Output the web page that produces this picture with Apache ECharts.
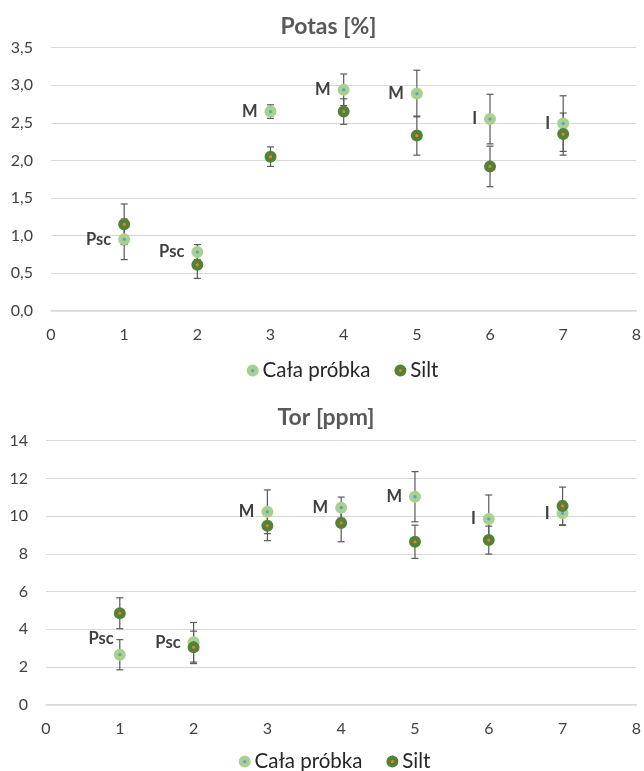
<!DOCTYPE html>
<html>
<head>
<meta charset="utf-8">
<script src="https://cdn.jsdelivr.net/npm/echarts@6/dist/echarts.min.js"></script>
<style>
html,body{margin:0;padding:0;background:#fff;}
#chart{width:644px;height:771px;}
</style>
</head>
<body>
<div id="chart"></div>
<script>
// ---- data ----
var xValues = [1, 2, 3, 4, 5, 6, 7];
var pointLabels = ['Psc', 'Psc', 'M', 'M', 'M', 'I', 'I'];
var seriesNames = ['Cała próbka', 'Silt'];

var potasCala = [0.95, 0.78, 2.65, 2.94, 2.89, 2.55, 2.49];
var potasCalaErr = [0.27, 0.10, 0.09, 0.21, 0.31, 0.33, 0.37];
var potasSilt = [1.15, 0.61, 2.05, 2.65, 2.33, 1.92, 2.35];
var potasSiltErr = [0.27, 0.18, 0.13, 0.17, 0.26, 0.27, 0.28];

var torCala = [2.65, 3.31, 10.23, 10.45, 11.03, 9.85, 10.15];
var torCalaErr = [0.80, 1.05, 1.16, 0.56, 1.33, 1.27, 0.64];
var torSilt = [4.85, 3.04, 9.49, 9.64, 8.64, 8.73, 10.54];
var torSiltErr = [0.82, 0.86, 0.79, 1.00, 0.88, 0.74, 1.00];

var titles = ['Potas [%]', 'Tor [ppm]'];

// ---- styles ----
var FONT = 'Lato';
var lightGreen = '#A9D18E', blueDot = '#5B9BD5';
var darkGreen = '#548235', orangeDot = '#ED7D31';
var gridColor = '#D9D9D9';
var errColor = '#595959';

function pairs(ys) { return xValues.map(function (x, i) { return [x, ys[i]]; }); }
function triples(ys, es) { return xValues.map(function (x, i) { return [x, ys[i], es[i]]; }); }

function errRender(params, api) {
  var x = api.value(0), y = api.value(1), e = api.value(2);
  var t = api.coord([x, y + e]), b = api.coord([x, y - e]);
  var hw = 3.5;
  var st = { stroke: errColor, lineWidth: 1.2 };
  return {
    type: 'group',
    children: [
      { type: 'line', shape: { x1: t[0], y1: t[1], x2: b[0], y2: b[1] }, style: st },
      { type: 'line', shape: { x1: t[0] - hw, y1: t[1], x2: t[0] + hw, y2: t[1] }, style: st },
      { type: 'line', shape: { x1: b[0] - hw, y1: b[1], x2: b[0] + hw, y2: b[1] }, style: st }
    ]
  };
}

function errSeries(idx, ys, es) {
  return {
    type: 'custom', xAxisIndex: idx, yAxisIndex: idx, z: 1, silent: true,
    renderItem: errRender, encode: { x: 0, y: 1 }, data: triples(ys, es)
  };
}

var SYM = 7.6, BW = 4.4;

function calaSeries(idx, ys, overrides) {
  var data = pairs(ys).map(function (p, i) {
    var item = { value: p };
    if (overrides && overrides[i]) item.label = overrides[i];
    return item;
  });
  return {
    name: seriesNames[0], type: 'scatter', xAxisIndex: idx, yAxisIndex: idx, z: 3,
    symbol: 'circle', symbolSize: SYM,
    itemStyle: { color: blueDot, borderColor: lightGreen, borderWidth: BW, opacity: 1 },
    label: {
      show: true, position: 'left', distance: 7,
      formatter: function (p) { return pointLabels[p.dataIndex]; },
      fontFamily: FONT, fontWeight: 'bold', fontSize: 16.5, color: '#404040'
    },
    emphasis: { disabled: true },
    data: data
  };
}

function siltSeries(idx, ys) {
  return {
    name: seriesNames[1], type: 'scatter', xAxisIndex: idx, yAxisIndex: idx, z: 4,
    symbol: 'circle', symbolSize: SYM,
    itemStyle: { color: orangeDot, borderColor: darkGreen, borderWidth: BW, opacity: 1 },
    emphasis: { disabled: true },
    data: pairs(ys)
  };
}

function legendFor(left, top) {
  return {
    left: left, top: top, itemWidth: SYM, itemHeight: SYM, itemGap: 24, padding: 0,
    icon: 'circle',
    textStyle: { fontFamily: FONT, fontSize: 20.5, color: '#262626', padding: [0, 0, 0, 1] },
    data: [
      { name: seriesNames[0], icon: 'circle', itemStyle: { color: blueDot, borderColor: lightGreen, borderWidth: BW } },
      { name: seriesNames[1], icon: 'circle', itemStyle: { color: orangeDot, borderColor: darkGreen, borderWidth: BW } }
    ],
    selectedMode: false
  };
}

function xAxisFor(idx) {
  return {
    type: 'value', gridIndex: idx, min: 0, max: 8, interval: 1,
    axisLine: { show: true, onZero: false, lineStyle: { color: gridColor, width: 1.5 } },
    axisTick: { show: false },
    splitLine: { show: false },
    axisLabel: { fontFamily: FONT, fontSize: 16, color: '#404040', margin: 16 }
  };
}

function yAxisFor(idx, max, interval, fmt) {
  return {
    type: 'value', gridIndex: idx, min: 0, max: max, interval: interval,
    axisLine: { show: false }, axisTick: { show: false },
    splitLine: { show: true, lineStyle: { color: gridColor, width: 1 } },
    axisLabel: { fontFamily: FONT, fontSize: 16, color: '#404040', margin: 18, formatter: fmt }
  };
}

var option = {
  animation: false,
  backgroundColor: '#ffffff',
  textStyle: { fontFamily: FONT },
  title: [
    { text: titles[0], left: 328.5, top: 15, textAlign: 'center', padding: 0,
      textStyle: { fontFamily: FONT, fontWeight: 'bold', fontSize: 23, color: '#595959' } },
    { text: titles[1], left: 326, top: 406, textAlign: 'center', padding: 0,
      textStyle: { fontFamily: FONT, fontWeight: 'bold', fontSize: 23, color: '#595959' } }
  ],
  legend: [legendFor(246.7, 360), legendFor(238.7, 751)],
  grid: [
    { left: 51, right: 5.5, top: 47.7, height: 263, containLabel: false },
    { left: 46, right: 5.5, top: 440.7, height: 264, containLabel: false }
  ],
  xAxis: [xAxisFor(0), xAxisFor(1)],
  yAxis: [
    yAxisFor(0, 3.5, 0.5, function (v) { return v.toFixed(1).replace('.', ','); }),
    yAxisFor(1, 14, 2, function (v) { return String(v); })
  ],
  series: [
    errSeries(0, potasCala, potasCalaErr),
    errSeries(0, potasSilt, potasSiltErr),
    calaSeries(0, potasCala),
    siltSeries(0, potasSilt),
    errSeries(1, torCala, torCalaErr),
    errSeries(1, torSilt, torSiltErr),
    calaSeries(1, torCala, { 0: { offset: [7, -16] } }),
    siltSeries(1, torSilt)
  ]
};

var chart = echarts.init(document.getElementById('chart'), null, { renderer: 'canvas' });
chart.setOption(option);
</script>
</body>
</html>
